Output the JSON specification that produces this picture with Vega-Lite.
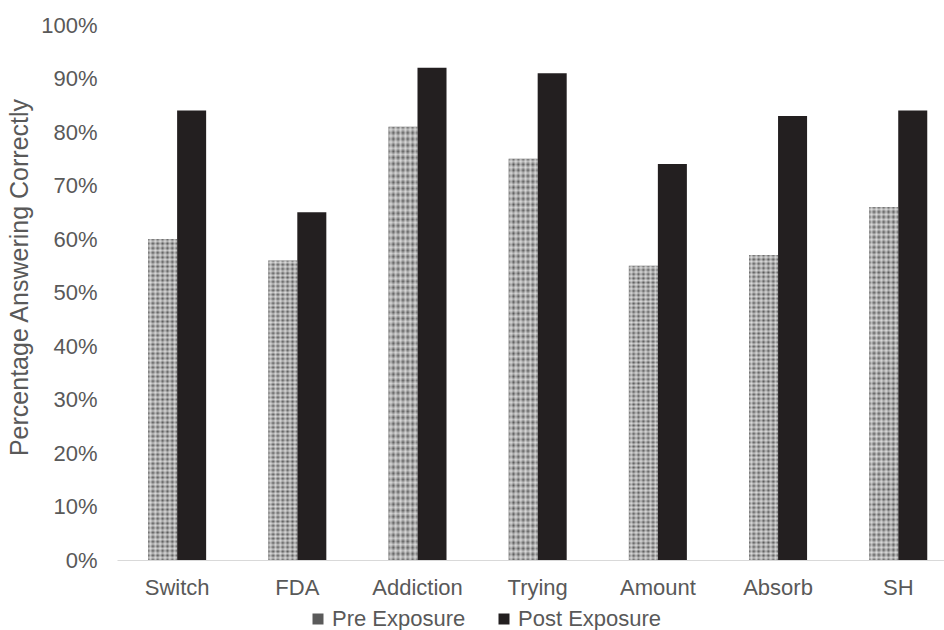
{
  "$schema": "https://vega.github.io/schema/vega-lite/v6.json",
  "width": 827,
  "height": 535,
  "autosize": {"type": "none"},
  "padding": {"left": 117, "top": 25, "right": 0, "bottom": 70},
  "config": {
    "view": {"stroke": null},
    "font": "Liberation Sans",
    "axis": {"grid": false, "ticks": false, "labelFont": "Liberation Sans", "titleFont": "Liberation Sans"}
  },
  "data": {
    "values": [
      {"question": "Switch", "exposure": "Pre Exposure", "pct": 0.60},
      {"question": "Switch", "exposure": "Post Exposure", "pct": 0.84},
      {"question": "FDA", "exposure": "Pre Exposure", "pct": 0.56},
      {"question": "FDA", "exposure": "Post Exposure", "pct": 0.65},
      {"question": "Addiction", "exposure": "Pre Exposure", "pct": 0.81},
      {"question": "Addiction", "exposure": "Post Exposure", "pct": 0.92},
      {"question": "Trying", "exposure": "Pre Exposure", "pct": 0.75},
      {"question": "Trying", "exposure": "Post Exposure", "pct": 0.91},
      {"question": "Amount", "exposure": "Pre Exposure", "pct": 0.55},
      {"question": "Amount", "exposure": "Post Exposure", "pct": 0.74},
      {"question": "Absorb", "exposure": "Pre Exposure", "pct": 0.57},
      {"question": "Absorb", "exposure": "Post Exposure", "pct": 0.83},
      {"question": "SH", "exposure": "Pre Exposure", "pct": 0.66},
      {"question": "SH", "exposure": "Post Exposure", "pct": 0.84}
    ]
  },
  "encoding": {
    "x": {
      "field": "question",
      "type": "nominal",
      "sort": ["Switch", "FDA", "Addiction", "Trying", "Amount", "Absorb", "SH"],
      "scale": {"paddingInner": 0.517, "paddingOuter": 0.199, "align": 0.65},
      "axis": {
        "title": null,
        "labelAngle": 0,
        "labelFontSize": 22,
        "labelColor": "#595959",
        "labelPadding": 17,
        "domainColor": "#d9d9d9",
        "domainWidth": 1
      }
    },
    "xOffset": {
      "field": "exposure",
      "type": "nominal",
      "sort": ["Pre Exposure", "Post Exposure"],
      "scale": {"paddingInner": 0, "paddingOuter": 0}
    },
    "y": {
      "field": "pct",
      "type": "quantitative",
      "scale": {"domain": [0, 1]},
      "axis": {
        "title": "Percentage Answering Correctly",
        "titleFontSize": 25,
        "titleFontWeight": "normal",
        "titleColor": "#595959",
        "titlePadding": 8,
        "titleY": 252,
        "format": ".0%",
        "values": [0, 0.1, 0.2, 0.3, 0.4, 0.5, 0.6, 0.7, 0.8, 0.9, 1],
        "labelFontSize": 22,
        "labelColor": "#595959",
        "labelPadding": 20,
        "domain": false
      }
    }
  },
  "layer": [
    {
      "mark": {"type": "bar"},
      "encoding": {
        "color": {
          "field": "exposure",
          "type": "nominal",
          "sort": ["Pre Exposure", "Post Exposure"],
          "scale": {"domain": ["Pre Exposure", "Post Exposure"], "range": ["#5a5a5a", "#231f20"]},
          "legend": {
            "title": null,
            "orient": "none",
            "legendX": 190,
            "legendY": 583,
            "direction": "horizontal",
            "labelFontSize": 22,
            "labelColor": "#595959",
            "symbolType": "square",
            "symbolSize": 121,
            "symbolStrokeWidth": 0,
            "columnPadding": 27,
            "labelOffset": 3
          }
        }
      }
    },
    {
      "transform": [{"filter": "datum.exposure === 'Pre Exposure'"}],
      "mark": {
        "type": "bar",
        "fill": {
          "gradient": "linear", "x1": 0, "y1": 0, "x2": 0, "y2": 1,
          "stops": [
            {"offset": 0, "color": "rgba(255,255,255,0)"},
            {"offset": 0.0071, "color": "rgba(255,255,255,0.55)"},
            {"offset": 0.0143, "color": "rgba(255,255,255,0)"},
            {"offset": 0.0214, "color": "rgba(255,255,255,0.55)"},
            {"offset": 0.0286, "color": "rgba(255,255,255,0)"},
            {"offset": 0.0357, "color": "rgba(255,255,255,0.55)"},
            {"offset": 0.0429, "color": "rgba(255,255,255,0)"},
            {"offset": 0.05, "color": "rgba(255,255,255,0.55)"},
            {"offset": 0.0571, "color": "rgba(255,255,255,0)"},
            {"offset": 0.0643, "color": "rgba(255,255,255,0.55)"},
            {"offset": 0.0714, "color": "rgba(255,255,255,0)"},
            {"offset": 0.0786, "color": "rgba(255,255,255,0.55)"},
            {"offset": 0.0857, "color": "rgba(255,255,255,0)"},
            {"offset": 0.0929, "color": "rgba(255,255,255,0.55)"},
            {"offset": 0.1, "color": "rgba(255,255,255,0)"},
            {"offset": 0.1071, "color": "rgba(255,255,255,0.55)"},
            {"offset": 0.1143, "color": "rgba(255,255,255,0)"},
            {"offset": 0.1214, "color": "rgba(255,255,255,0.55)"},
            {"offset": 0.1286, "color": "rgba(255,255,255,0)"},
            {"offset": 0.1357, "color": "rgba(255,255,255,0.55)"},
            {"offset": 0.1429, "color": "rgba(255,255,255,0)"},
            {"offset": 0.15, "color": "rgba(255,255,255,0.55)"},
            {"offset": 0.1571, "color": "rgba(255,255,255,0)"},
            {"offset": 0.1643, "color": "rgba(255,255,255,0.55)"},
            {"offset": 0.1714, "color": "rgba(255,255,255,0)"},
            {"offset": 0.1786, "color": "rgba(255,255,255,0.55)"},
            {"offset": 0.1857, "color": "rgba(255,255,255,0)"},
            {"offset": 0.1929, "color": "rgba(255,255,255,0.55)"},
            {"offset": 0.2, "color": "rgba(255,255,255,0)"},
            {"offset": 0.2071, "color": "rgba(255,255,255,0.55)"},
            {"offset": 0.2143, "color": "rgba(255,255,255,0)"},
            {"offset": 0.2214, "color": "rgba(255,255,255,0.55)"},
            {"offset": 0.2286, "color": "rgba(255,255,255,0)"},
            {"offset": 0.2357, "color": "rgba(255,255,255,0.55)"},
            {"offset": 0.2429, "color": "rgba(255,255,255,0)"},
            {"offset": 0.25, "color": "rgba(255,255,255,0.55)"},
            {"offset": 0.2571, "color": "rgba(255,255,255,0)"},
            {"offset": 0.2643, "color": "rgba(255,255,255,0.55)"},
            {"offset": 0.2714, "color": "rgba(255,255,255,0)"},
            {"offset": 0.2786, "color": "rgba(255,255,255,0.55)"},
            {"offset": 0.2857, "color": "rgba(255,255,255,0)"},
            {"offset": 0.2929, "color": "rgba(255,255,255,0.55)"},
            {"offset": 0.3, "color": "rgba(255,255,255,0)"},
            {"offset": 0.3071, "color": "rgba(255,255,255,0.55)"},
            {"offset": 0.3143, "color": "rgba(255,255,255,0)"},
            {"offset": 0.3214, "color": "rgba(255,255,255,0.55)"},
            {"offset": 0.3286, "color": "rgba(255,255,255,0)"},
            {"offset": 0.3357, "color": "rgba(255,255,255,0.55)"},
            {"offset": 0.3429, "color": "rgba(255,255,255,0)"},
            {"offset": 0.35, "color": "rgba(255,255,255,0.55)"},
            {"offset": 0.3571, "color": "rgba(255,255,255,0)"},
            {"offset": 0.3643, "color": "rgba(255,255,255,0.55)"},
            {"offset": 0.3714, "color": "rgba(255,255,255,0)"},
            {"offset": 0.3786, "color": "rgba(255,255,255,0.55)"},
            {"offset": 0.3857, "color": "rgba(255,255,255,0)"},
            {"offset": 0.3929, "color": "rgba(255,255,255,0.55)"},
            {"offset": 0.4, "color": "rgba(255,255,255,0)"},
            {"offset": 0.4071, "color": "rgba(255,255,255,0.55)"},
            {"offset": 0.4143, "color": "rgba(255,255,255,0)"},
            {"offset": 0.4214, "color": "rgba(255,255,255,0.55)"},
            {"offset": 0.4286, "color": "rgba(255,255,255,0)"},
            {"offset": 0.4357, "color": "rgba(255,255,255,0.55)"},
            {"offset": 0.4429, "color": "rgba(255,255,255,0)"},
            {"offset": 0.45, "color": "rgba(255,255,255,0.55)"},
            {"offset": 0.4571, "color": "rgba(255,255,255,0)"},
            {"offset": 0.4643, "color": "rgba(255,255,255,0.55)"},
            {"offset": 0.4714, "color": "rgba(255,255,255,0)"},
            {"offset": 0.4786, "color": "rgba(255,255,255,0.55)"},
            {"offset": 0.4857, "color": "rgba(255,255,255,0)"},
            {"offset": 0.4929, "color": "rgba(255,255,255,0.55)"},
            {"offset": 0.5, "color": "rgba(255,255,255,0)"},
            {"offset": 0.5071, "color": "rgba(255,255,255,0.55)"},
            {"offset": 0.5143, "color": "rgba(255,255,255,0)"},
            {"offset": 0.5214, "color": "rgba(255,255,255,0.55)"},
            {"offset": 0.5286, "color": "rgba(255,255,255,0)"},
            {"offset": 0.5357, "color": "rgba(255,255,255,0.55)"},
            {"offset": 0.5429, "color": "rgba(255,255,255,0)"},
            {"offset": 0.55, "color": "rgba(255,255,255,0.55)"},
            {"offset": 0.5571, "color": "rgba(255,255,255,0)"},
            {"offset": 0.5643, "color": "rgba(255,255,255,0.55)"},
            {"offset": 0.5714, "color": "rgba(255,255,255,0)"},
            {"offset": 0.5786, "color": "rgba(255,255,255,0.55)"},
            {"offset": 0.5857, "color": "rgba(255,255,255,0)"},
            {"offset": 0.5929, "color": "rgba(255,255,255,0.55)"},
            {"offset": 0.6, "color": "rgba(255,255,255,0)"},
            {"offset": 0.6071, "color": "rgba(255,255,255,0.55)"},
            {"offset": 0.6143, "color": "rgba(255,255,255,0)"},
            {"offset": 0.6214, "color": "rgba(255,255,255,0.55)"},
            {"offset": 0.6286, "color": "rgba(255,255,255,0)"},
            {"offset": 0.6357, "color": "rgba(255,255,255,0.55)"},
            {"offset": 0.6429, "color": "rgba(255,255,255,0)"},
            {"offset": 0.65, "color": "rgba(255,255,255,0.55)"},
            {"offset": 0.6571, "color": "rgba(255,255,255,0)"},
            {"offset": 0.6643, "color": "rgba(255,255,255,0.55)"},
            {"offset": 0.6714, "color": "rgba(255,255,255,0)"},
            {"offset": 0.6786, "color": "rgba(255,255,255,0.55)"},
            {"offset": 0.6857, "color": "rgba(255,255,255,0)"},
            {"offset": 0.6929, "color": "rgba(255,255,255,0.55)"},
            {"offset": 0.7, "color": "rgba(255,255,255,0)"},
            {"offset": 0.7071, "color": "rgba(255,255,255,0.55)"},
            {"offset": 0.7143, "color": "rgba(255,255,255,0)"},
            {"offset": 0.7214, "color": "rgba(255,255,255,0.55)"},
            {"offset": 0.7286, "color": "rgba(255,255,255,0)"},
            {"offset": 0.7357, "color": "rgba(255,255,255,0.55)"},
            {"offset": 0.7429, "color": "rgba(255,255,255,0)"},
            {"offset": 0.75, "color": "rgba(255,255,255,0.55)"},
            {"offset": 0.7571, "color": "rgba(255,255,255,0)"},
            {"offset": 0.7643, "color": "rgba(255,255,255,0.55)"},
            {"offset": 0.7714, "color": "rgba(255,255,255,0)"},
            {"offset": 0.7786, "color": "rgba(255,255,255,0.55)"},
            {"offset": 0.7857, "color": "rgba(255,255,255,0)"},
            {"offset": 0.7929, "color": "rgba(255,255,255,0.55)"},
            {"offset": 0.8, "color": "rgba(255,255,255,0)"},
            {"offset": 0.8071, "color": "rgba(255,255,255,0.55)"},
            {"offset": 0.8143, "color": "rgba(255,255,255,0)"},
            {"offset": 0.8214, "color": "rgba(255,255,255,0.55)"},
            {"offset": 0.8286, "color": "rgba(255,255,255,0)"},
            {"offset": 0.8357, "color": "rgba(255,255,255,0.55)"},
            {"offset": 0.8429, "color": "rgba(255,255,255,0)"},
            {"offset": 0.85, "color": "rgba(255,255,255,0.55)"},
            {"offset": 0.8571, "color": "rgba(255,255,255,0)"},
            {"offset": 0.8643, "color": "rgba(255,255,255,0.55)"},
            {"offset": 0.8714, "color": "rgba(255,255,255,0)"},
            {"offset": 0.8786, "color": "rgba(255,255,255,0.55)"},
            {"offset": 0.8857, "color": "rgba(255,255,255,0)"},
            {"offset": 0.8929, "color": "rgba(255,255,255,0.55)"},
            {"offset": 0.9, "color": "rgba(255,255,255,0)"},
            {"offset": 0.9071, "color": "rgba(255,255,255,0.55)"},
            {"offset": 0.9143, "color": "rgba(255,255,255,0)"},
            {"offset": 0.9214, "color": "rgba(255,255,255,0.55)"},
            {"offset": 0.9286, "color": "rgba(255,255,255,0)"},
            {"offset": 0.9357, "color": "rgba(255,255,255,0.55)"},
            {"offset": 0.9429, "color": "rgba(255,255,255,0)"},
            {"offset": 0.95, "color": "rgba(255,255,255,0.55)"},
            {"offset": 0.9571, "color": "rgba(255,255,255,0)"},
            {"offset": 0.9643, "color": "rgba(255,255,255,0.55)"},
            {"offset": 0.9714, "color": "rgba(255,255,255,0)"},
            {"offset": 0.9786, "color": "rgba(255,255,255,0.55)"},
            {"offset": 0.9857, "color": "rgba(255,255,255,0)"},
            {"offset": 0.9929, "color": "rgba(255,255,255,0.55)"},
            {"offset": 1, "color": "rgba(255,255,255,0)"}
          ]
        }
      }
    },
    {
      "transform": [{"filter": "datum.exposure === 'Pre Exposure'"}],
      "mark": {
        "type": "bar",
        "fill": {
          "gradient": "linear", "x1": 0, "y1": 0, "x2": 1, "y2": 0,
          "stops": [
            {"offset": 0, "color": "rgba(255,255,255,0)"},
            {"offset": 0.0833, "color": "rgba(255,255,255,0.55)"},
            {"offset": 0.1667, "color": "rgba(255,255,255,0)"},
            {"offset": 0.25, "color": "rgba(255,255,255,0.55)"},
            {"offset": 0.3333, "color": "rgba(255,255,255,0)"},
            {"offset": 0.4167, "color": "rgba(255,255,255,0.55)"},
            {"offset": 0.5, "color": "rgba(255,255,255,0)"},
            {"offset": 0.5833, "color": "rgba(255,255,255,0.55)"},
            {"offset": 0.6667, "color": "rgba(255,255,255,0)"},
            {"offset": 0.75, "color": "rgba(255,255,255,0.55)"},
            {"offset": 0.8333, "color": "rgba(255,255,255,0)"},
            {"offset": 0.9167, "color": "rgba(255,255,255,0.55)"},
            {"offset": 1, "color": "rgba(255,255,255,0)"}
          ]
        }
      }
    }
  ]
}
